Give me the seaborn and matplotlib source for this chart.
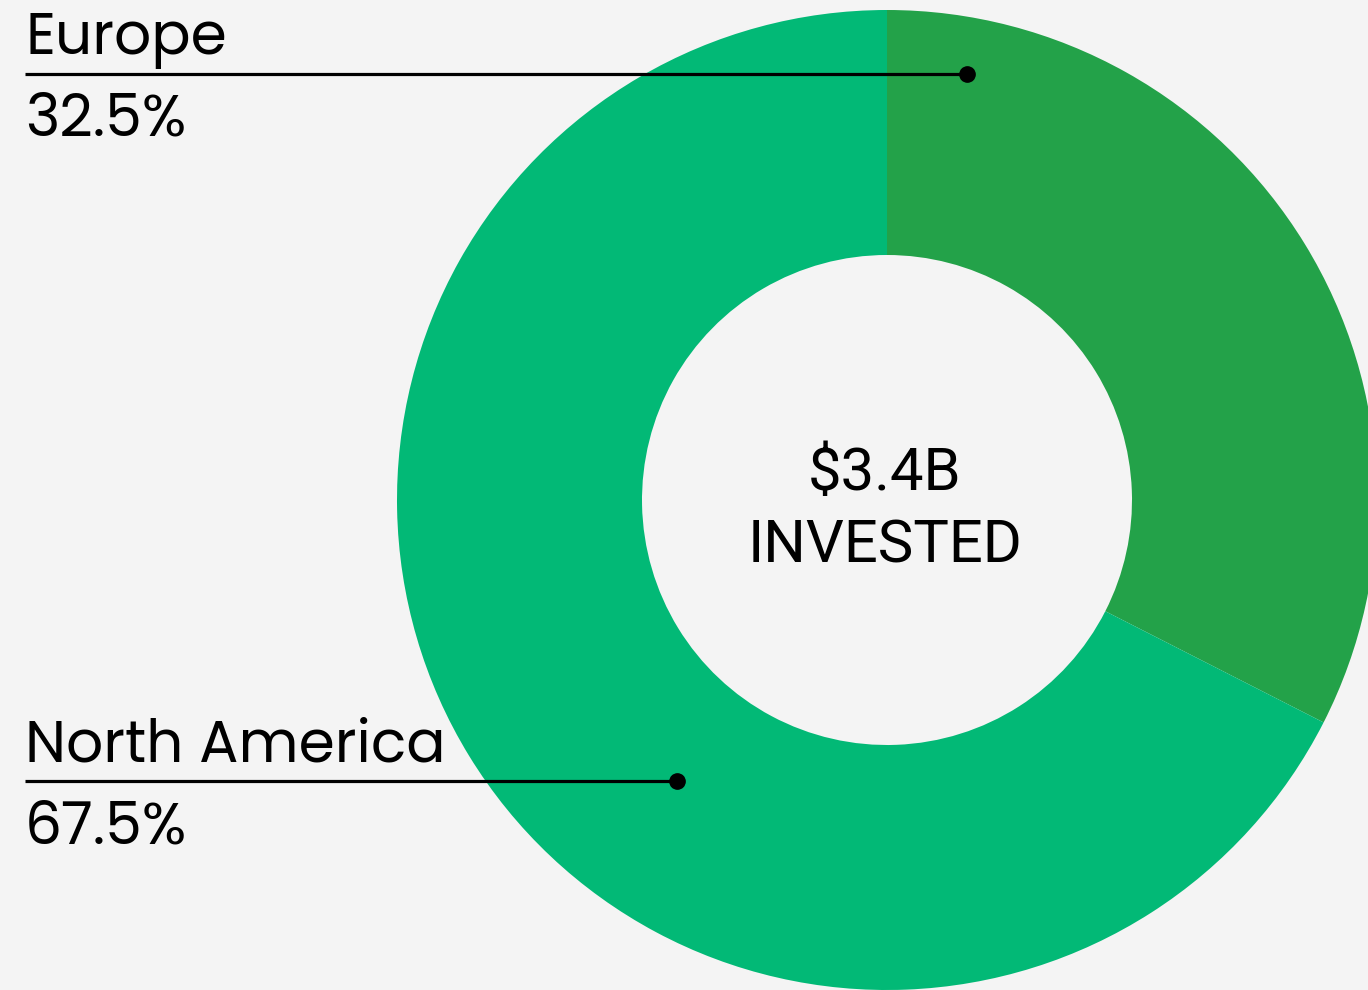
import matplotlib.pyplot as plt
import seaborn as sns

# data
regions = ["Europe", "North America"]
shares = [32.5, 67.5]
colors = ["#23A249", "#02B976"]
total_label = "$3.4B"
center_caption = "INVESTED"

sns.set_theme(style="white")
plt.rcParams['font.family'] = ['Poppins', 'Lato', 'DejaVu Sans']
plt.rcParams['text.color'] = "black"

W, H = 1368, 990
fig = plt.figure(figsize=(W / 100, H / 100), dpi=100)
fig.patch.set_facecolor("#F4F4F4")
ax = fig.add_axes([0, 0, 1, 1])
ax.set_facecolor("#F4F4F4")

# donut, centre in pixel coords (y flipped)
cx, cy, r = 887, H - 500, 490
wedges, _ = ax.pie(shares, colors=colors, startangle=90, counterclock=False,
                   radius=r, center=(cx, cy), frame=True,
                   wedgeprops=dict(width=245, linewidth=0))
ax.set_xlim(0, W)
ax.set_ylim(0, H)
ax.set_aspect("equal")
ax.axis("off")

# centre text
ax.text(cx - 2, H - 474, total_label, ha="center", va="center",
        fontsize=43, family=['Roboto', 'DejaVu Sans'])
ax.text(cx - 2, H - 546, center_caption, ha="center", va="center",
        fontsize=43, family=['Roboto', 'DejaVu Sans'])

# leader lines with labels
leaders = [
    (regions[0], shares[0], 74, 967),
    (regions[1], shares[1], 781, 677),
]
for name, pct, y, xend in leaders:
    yy = H - y
    ax.plot([25, xend], [yy, yy], color="black", lw=2.3, solid_capstyle="butt")
    ax.plot(xend, yy, "o", color="black", markersize=11)
    ax.text(25, yy + 5, name, ha="left", va="bottom", fontsize=42)
    ax.text(25, yy - 18, f"{pct}%", ha="left", va="top", fontsize=42)

fig.savefig("out.png", dpi=100, facecolor=fig.get_facecolor())
